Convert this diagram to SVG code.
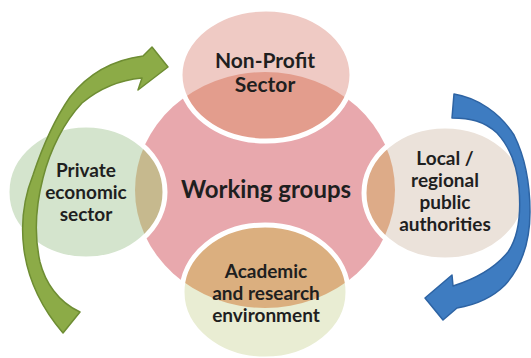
<svg xmlns="http://www.w3.org/2000/svg" width="531" height="358" viewBox="0 0 531 358">
<style>
.lbl{font-family:Lato,"Liberation Sans",sans-serif;font-weight:bold;fill:#1f1f1f;text-anchor:middle}
.ring{fill:none;stroke:#ffffff;stroke-width:5}
</style>
<defs>
<clipPath id="cc"><ellipse cx="265" cy="190" rx="130" ry="118"/></clipPath>
</defs>
<rect width="531" height="358" fill="#ffffff"/>
<g id="center">
<ellipse cx="265" cy="190" rx="130" ry="118" fill="#e8a8ad"/>
</g>
<g id="node-nonprofit">
<ellipse cx="266" cy="75" rx="86" ry="66" fill="#efcac4"/>
<ellipse cx="266" cy="75" rx="86" ry="66" fill="#e39d8d" clip-path="url(#cc)"/>
<ellipse class="ring" cx="266" cy="75" rx="86" ry="66"/>
<text class="lbl" x="265" y="68" font-size="21">Non-Profit</text>
<text class="lbl" x="265" y="92" font-size="21">Sector</text>
</g>
<g id="node-private">
<ellipse cx="86" cy="192" rx="79" ry="67" fill="#d4e4cd"/>
<ellipse cx="86" cy="192" rx="79" ry="67" fill="#c6b98e" clip-path="url(#cc)"/>
<ellipse class="ring" cx="86" cy="192" rx="79" ry="67"/>
<text class="lbl" x="86" y="177" font-size="19">Private</text>
<text class="lbl" x="86" y="199" font-size="19">economic</text>
<text class="lbl" x="86" y="221" font-size="19">sector</text>
</g>
<g id="node-local">
<ellipse cx="445" cy="193" rx="81" ry="67" fill="#ebe2da"/>
<ellipse cx="445" cy="193" rx="81" ry="67" fill="#ddab88" clip-path="url(#cc)"/>
<ellipse class="ring" cx="445" cy="193" rx="81" ry="67"/>
<text class="lbl" x="445" y="165" font-size="19">Local /</text>
<text class="lbl" x="445" y="187" font-size="19">regional</text>
<text class="lbl" x="445" y="209" font-size="19">public</text>
<text class="lbl" x="445" y="231" font-size="19">authorities</text>
</g>
<g id="node-academic">
<ellipse cx="265" cy="292" rx="83" ry="67" fill="#e9edd3"/>
<ellipse cx="265" cy="292" rx="83" ry="67" fill="#dbaf7f" clip-path="url(#cc)"/>
<ellipse class="ring" cx="265" cy="292" rx="83" ry="67"/>
<text class="lbl" x="266" y="278" font-size="19">Academic</text>
<text class="lbl" x="266" y="300" font-size="19">and research</text>
<text class="lbl" x="266" y="322" font-size="19">environment</text>
</g>
<g id="center-label">
<text class="lbl" x="266" y="198" font-size="24">Working groups</text>
</g>
<g id="connectors">
<path d="M63,333 C45,312 29,285 24,250 C20,220 25,195 33,175 C42,148 54,120 70,97 C88,74 112,60 143,56 L152,47 L168,67 L138,90 L142,78 C120,80 100,88 82,103 C64,122 50,150 43,178 C36,205 34,235 40,262 C45,282 58,302 80,312 Z" fill="#8cab47" stroke="#6e8d33" stroke-width="1.5" stroke-linejoin="round"/>
<path d="M454,94 C478,98 500,113 514,135 C525,157 530,185 530,212 C530,240 523,265 505,285 C492,298 475,305 457,308 L443,320 L425,298 L452,275 L453,286 C475,279 495,268 508,252 C519,236 521,212 519,188 C517,165 510,147 497,133 C484,121 470,118 452,118 Z" fill="#3e7cc1" stroke="#2d63a3" stroke-width="1.5" stroke-linejoin="round"/>
</g>
</svg>
